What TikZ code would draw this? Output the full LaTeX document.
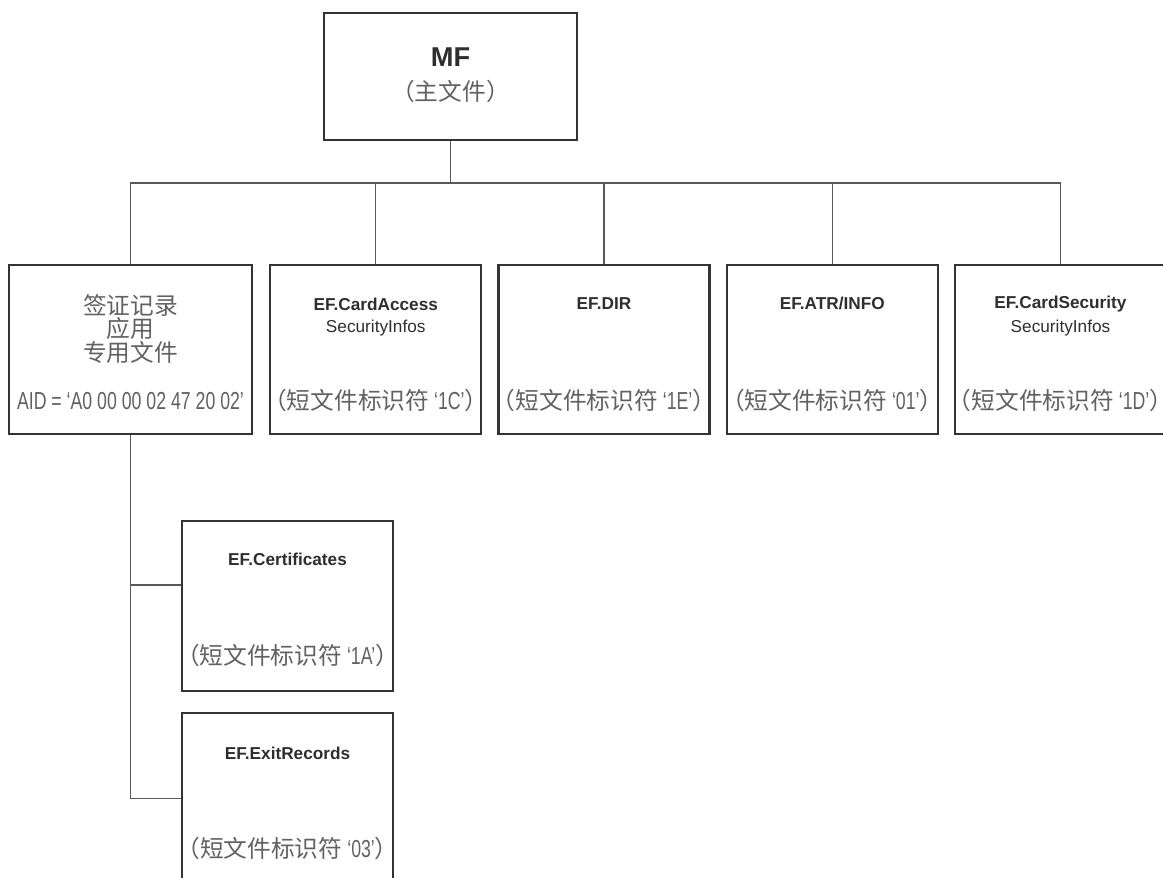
\documentclass[tikz,border=0pt]{standalone}
\usepackage{fontspec}
\setmainfont{Liberation Sans}
\newfontfamily\cjk{Noto Sans CJK SC}
\newfontfamily\narrowfont[FakeStretch=0.72]{Liberation Sans}
\usetikzlibrary{positioning,calc}

\definecolor{boxgray}{gray}{0.2}
\definecolor{linegray}{gray}{0.35}
\definecolor{textgray}{gray}{0.18}
\definecolor{cjkgray}{gray}{0.38}

% short file identifier line
\newcommand{\shortfid}[1]{{\cjk （短文件标识符}{\narrowfont\fontsize{14}{14}\selectfont\ ‘#1’}{\cjk ）}}

\begin{document}
\begin{tikzpicture}[x=0.02cm, y=-0.02cm, node distance=0.30cm,
    filebox/.style={draw=boxgray, line width=1.3pt, minimum width=4.22cm, minimum height=3.38cm, inner sep=0pt},
    eftitle/.style={font=\bfseries\fontsize{9.8}{11}\selectfont, text=textgray},
    efsub/.style={font=\fontsize{9.8}{11}\selectfont, text=textgray},
    cjktxt/.style={font=\cjk\fontsize{13.5}{13.2}\selectfont, text=cjkgray, align=center, inner sep=0pt},
    conn/.style={draw=linegray, line width=0.75pt}]
  \useasboundingbox (0,0) rectangle (1163,877);

  % master file
  \node [filebox, minimum width=5.06cm, minimum height=2.54cm] (mf) at (450.5,76.5) {};
  \node [eftitle, font=\bfseries\fontsize{15.5}{16}\selectfont] (mftxt) at ([yshift=-0.9cm]mf.north) {MF};
  \node [cjktxt] (mfsub) at ([yshift=-1.6cm]mf.north) {（主文件）};

  % first level
  \node [filebox, minimum width=4.86cm] (visa) at (130.5,349.5) {};
  \node [filebox, right=0.32cm of visa] (cacc) {};
  \node [filebox, right=of cacc] (dir) {};
  \node [filebox, right=of dir] (atr) {};
  \node [filebox, right=of atr] (csec) {};

  \node [cjktxt] (visatxt) at ([yshift=-1.3cm]visa.north) {签证记录\\应用\\专用文件};
  \node [cjktxt, font=\narrowfont\fontsize{14}{14}\selectfont] (aid) at ([yshift=-2.74cm]visa.north) {AID = ‘A0 00 00 02 47 20 02’};

  \node [eftitle] (cacct) at ([yshift=-0.8cm]cacc.north) {EF.CardAccess};
  \node [efsub] (caccs) at ([yshift=-1.28cm]cacc.north) {SecurityInfos};
  \node [cjktxt] (caccf) at ([yshift=-2.74cm]cacc.north) {\shortfid{1C}};

  \node [eftitle] (dirt) at ([yshift=-0.8cm]dir.north) {EF.DIR};
  \node [cjktxt] (dirf) at ([yshift=-2.74cm]dir.north) {\shortfid{1E}};

  \node [eftitle] (atrt) at ([yshift=-0.8cm]atr.north) {EF.ATR/INFO};
  \node [cjktxt] (atrf) at ([yshift=-2.74cm]atr.north) {\shortfid{01}};

  \node [eftitle] (csect) at ([yshift=-0.8cm]csec.north) {EF.CardSecurity};
  \node [efsub] (csecs) at ([yshift=-1.28cm]csec.north) {SecurityInfos};
  \node [cjktxt] (csecf) at ([yshift=-2.74cm]csec.north) {\shortfid{1D}};

  % second level
  \node [filebox, minimum height=3.4cm] (cert) at (287.5,606) {};
  \node [filebox, minimum height=3.4cm, below=0.4cm of cert] (exit) {};

  \node [eftitle] (certt) at ([yshift=-0.78cm]cert.north) {EF.Certificates};
  \node [cjktxt] (certf) at ([yshift=-2.72cm]cert.north) {\shortfid{1A}};
  \node [eftitle] (exitt) at ([yshift=-0.82cm]exit.north) {EF.ExitRecords};
  \node [cjktxt] (exitf) at ([yshift=-2.72cm]exit.north) {\shortfid{03}};

  % connectors
  \coordinate (bus) at (0,183);
  \draw [conn] (mf.south) -- (mf.south |- bus);
  \draw [conn] (visa.north) |- (csec.north |- bus) -- (csec.north);
  \foreach \f in {cacc,dir,atr}
    \draw [conn] (\f.north) -- (\f.north |- bus);
  \coordinate (certin) at ([yshift=0.42cm]cert.west);
  \draw [conn] (visa.south) |- (exit.west);
  \draw [conn] (visa.south |- certin) -- (certin);
\end{tikzpicture}
\end{document}
